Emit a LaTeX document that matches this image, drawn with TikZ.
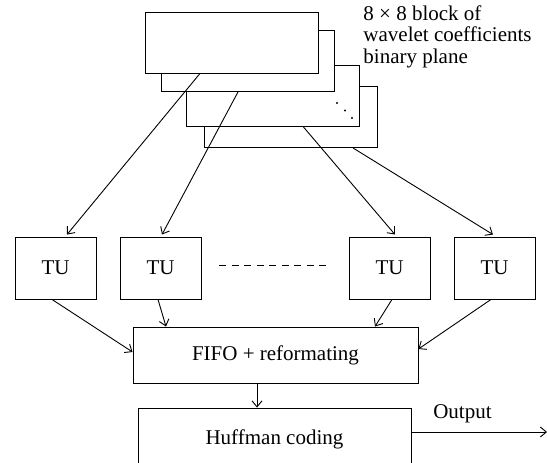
\documentclass[tikz,border=0pt]{standalone}
\usepackage{fontspec}
\setmainfont{Liberation Serif}
\usetikzlibrary{arrows.meta}
\begin{document}
\begin{tikzpicture}[x=1pt,y=-1pt,
  line width=0.9pt,
  every node/.style={font=\fontsize{21}{21.5}\selectfont},
  plane/.style={draw,fill=white,minimum width=173pt,minimum height=61pt,inner sep=0pt},
  unit/.style={draw,minimum width=81pt,minimum height=62pt,inner sep=0pt},
  block/.style={draw,inner sep=0pt},
  arr/.style={-{Straight Barb[length=6pt,width=10pt]}}]
\useasboundingbox (0,0) rectangle (547,463);
\clip (0,0) rectangle (547,463);

% stacked binary planes, back to front
\node[plane] (p4) at (290.5,117) {};
\node[plane] (p3) at (272.5,95.5) {};
\node[plane] (p2) at (247.5,61) {};
\node[plane] (p1) at (231.5,42.5) {};
\fill (337,103) circle (1.2pt) (345,110.5) circle (1.2pt) (352,118) circle (1.2pt);

\node[anchor=north west,align=left,inner sep=0pt] (lbl) at (363,5)
  {8 × 8 block of\\wavelet coefficients\\binary plane};

% transform units
\node[unit] (tu1) at (55.5,268) {TU};
\node[unit] (tu2) at (160.5,268) {TU};
\node[unit] (tu3) at (389.5,268) {TU};
\node[unit] (tu4) at (494.5,268) {TU};
\draw[dash pattern=on 7pt off 5.5pt] ([xshift=18pt,yshift=3pt]tu2.east) -- ([xshift=-18pt,yshift=3pt]tu3.west);

\node[block,minimum width=285pt,minimum height=56pt] (fifo) at (275.5,355) {FIFO + reformating};
\node[block,minimum width=273pt,minimum height=62pt] (huff) at (274.5,439) {Huffman coding};
\coordinate (out) at (547,432);
\node (outlbl) at (462.5,414) {Output};

% planes to units
\draw[arr] ([xshift=-31.5pt]p1.south) -- ([xshift=11.5pt,yshift=2pt]tu1.north);
\draw[arr] ([xshift=-9.5pt]p2.south) -- ([xshift=1.5pt,yshift=2pt]tu2.north);
\draw[arr] ([xshift=30.5pt]p3.south) -- ([xshift=5.5pt,yshift=2pt]tu3.north);
\draw[arr] ([xshift=62.5pt]p4.south) -- ([xshift=-1.5pt,yshift=2pt]tu4.north);

% units to FIFO
\draw[arr] ([xshift=-3.5pt]tu1.south) -- ([yshift=3pt]fifo.west);
\draw[arr] ([xshift=-2.5pt]tu2.south) -- ([xshift=-109.5pt]fifo.north);
\draw[arr] ([xshift=2.5pt]tu3.south) -- ([xshift=99.5pt]fifo.north);
\draw[arr] ([xshift=-3.5pt]tu4.south) -- ([yshift=6pt]fifo.east);

\draw[arr] ([xshift=-18.5pt]fifo.south) -- ([xshift=-17.5pt]huff.north);
\draw[arr] ([yshift=7pt]huff.east) -- (out);
\end{tikzpicture}
\end{document}
